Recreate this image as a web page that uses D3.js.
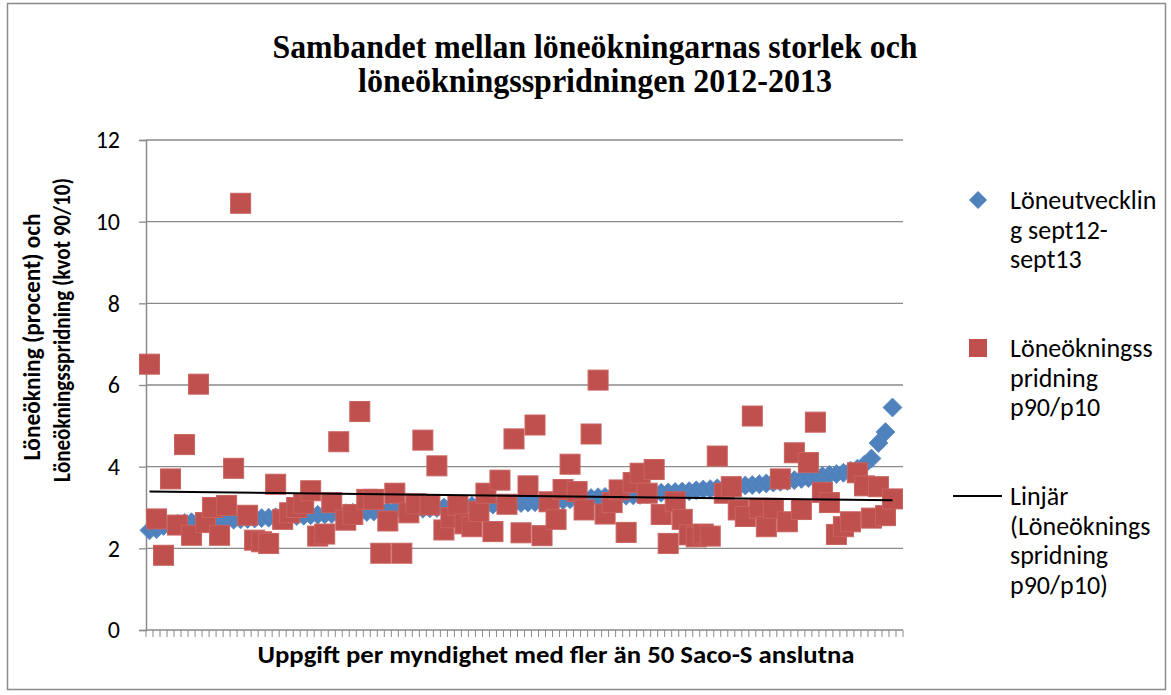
<!DOCTYPE html>
<html>
<head>
<meta charset="utf-8">
<script src="https://cdn.jsdelivr.net/npm/d3@7"></script>
<style>
  html, body { margin: 0; padding: 0; background: #fff; }
  svg { display: block; }
  text { fill: #000; }
</style>
</head>
<body>
<div id="chart"></div>
<script>
// Data (one value per agency)
const categories = d3.range(1, 109);   // 108 category slots on the x axis

const spreadValues = [
  6.51, 2.72, 1.83, 3.70, 2.57, 4.54, 2.32, 6.02, 2.63, 3.00,
  2.32, 3.05, 3.96, 10.45, 2.81, 2.20, 2.16, 2.12, 3.57, 2.71,
  2.87, 3.00, 3.10, 3.41, 2.30, 2.35, 3.12, 4.61, 2.69, 2.83,
  5.35, 3.20, 3.20, 1.88, 2.67, 3.35, 1.88, 2.87, 3.09, 4.65,
  3.06, 4.02, 2.45, 2.75, 3.05, 2.60, 2.53, 2.90, 3.35, 2.41,
  3.67, 3.08, 4.68, 2.38, 3.53, 5.02, 2.31, 3.14, 2.71, 3.44,
  4.06, 3.39, 2.94, 4.80, 6.12, 2.84, 3.12, 3.43, 2.39, 3.61,
  3.84, 3.35, 3.93, 2.83, 2.12, 3.14, 2.71, 2.33, 2.28, 2.35,
  2.30, 4.26, 3.35, 3.51, 2.94, 2.78, 5.24, 2.98, 2.53, 2.98,
  3.70, 2.65, 4.34, 2.95, 4.10, 5.09, 3.37, 3.12, 2.34, 2.53,
  2.65, 3.85, 3.53, 2.74, 3.51, 2.80, 3.21
];

const growthValues = [
  2.44, 2.47, 2.55, 2.58, 2.60, 2.62, 2.64, 2.65, 2.66, 2.67,
  2.68, 2.69, 2.70, 2.71, 2.72, 2.73, 2.74, 2.75, 2.76, 2.77,
  2.78, 2.79, 2.80, 2.81, 2.82, 2.83, 2.84, 2.85, 2.86, 2.87,
  2.88, 2.89, 2.90, 2.91, 2.92, 2.93, 2.94, 2.95, 2.96, 2.97,
  2.98, 2.99, 3.00, 3.01, 3.02, 3.03, 3.04, 3.05, 3.06, 3.07,
  3.08, 3.09, 3.10, 3.11, 3.12, 3.13, 3.14, 3.15, 3.16, 3.18,
  3.20, 3.21, 3.22, 3.23, 3.25, 3.26, 3.27, 3.28, 3.29, 3.30,
  3.31, 3.33, 3.34, 3.36, 3.37, 3.38, 3.39, 3.40, 3.42, 3.44,
  3.45, 3.47, 3.48, 3.50, 3.52, 3.54, 3.55, 3.57, 3.59, 3.61,
  3.63, 3.65, 3.67, 3.70, 3.72, 3.74, 3.77, 3.80, 3.82, 3.85,
  3.90, 3.95, 4.05, 4.20, 4.58, 4.85, 5.45
];

const yTicks = [0, 2, 4, 6, 8, 10, 12];

const titleLines = [
  'Sambandet mellan löneökningarnas storlek och',
  'löneökningsspridningen 2012-2013'
];
const yTitleLines = [
  'Löneökning (procent) och',
  'Löneökningsspridning (kvot 90/10)'
];
const xTitle = 'Uppgift per myndighet med fler än 50 Saco-S anslutna';
const legendItems = [
  { type: 'diamond', lines: ['Löneutvecklin', 'g sept12-', 'sept13'] },
  { type: 'square', lines: ['Löneökningss', 'pridning', 'p90/p10'] },
  { type: 'line', lines: ['Linjär', '(Löneöknings', 'spridning', 'p90/p10)'] }
];

const BLUE = '#4F81BD';
const RED = '#C0504D';
const GRID = '#8a8a8a';
const SANS = 'Carlito, Calibri, "Open Sans", sans-serif';

const width = 1171, height = 695;
const plot = { left: 146, right: 903, top: 140, bottom: 630 };

const svg = d3.select('#chart').append('svg')
  .attr('width', width)
  .attr('height', height);

// Outer chart border
svg.append('rect')
  .attr('x', 7.5).attr('y', 3.5)
  .attr('width', 1158).attr('height', 686)
  .attr('fill', 'none').attr('stroke', GRID).attr('stroke-width', 1.5);

// Scales
const x = d3.scaleBand()
  .domain(categories)
  .range([plot.left, plot.right])
  .padding(0);
const cx = i => x(categories[i]) + x.bandwidth() / 2;

const y = d3.scaleLinear()
  .domain([0, 12])
  .range([plot.bottom, plot.top]);

// Gridlines
svg.append('g')
  .selectAll('line')
  .data(yTicks.filter(t => t > 0))
  .enter().append('line')
  .attr('x1', plot.left).attr('x2', plot.right)
  .attr('y1', d => y(d)).attr('y2', d => y(d))
  .attr('stroke', GRID).attr('stroke-width', 1.3);

// Y axis
const yAxis = svg.append('g')
  .attr('transform', `translate(${plot.left},0)`)
  .call(d3.axisLeft(y).tickValues(yTicks).tickSize(7).tickPadding(19));
yAxis.select('.domain').attr('stroke', GRID).attr('stroke-width', 1.5);
yAxis.selectAll('.tick line').attr('stroke', GRID).attr('stroke-width', 1.3);
yAxis.selectAll('.tick text')
  .style('font-family', SANS).style('font-size', '24px').attr('fill', '#000');

// X axis: line plus a small tick at every category boundary
svg.append('line')
  .attr('x1', plot.left).attr('x2', plot.right)
  .attr('y1', plot.bottom).attr('y2', plot.bottom)
  .attr('stroke', GRID).attr('stroke-width', 1.5);

const boundaries = categories.map(c => x(c)).concat([plot.right]);
svg.append('g')
  .selectAll('line')
  .data(boundaries)
  .enter().append('line')
  .attr('x1', d => d).attr('x2', d => d)
  .attr('y1', plot.bottom).attr('y2', plot.bottom + 7)
  .attr('stroke', GRID).attr('stroke-width', 1);

// Series 1: diamonds
const dr = 9.5;
svg.append('g')
  .selectAll('path')
  .data(growthValues)
  .enter().append('path')
  .attr('d', (d, i) => {
    const px = cx(i), py = y(d);
    return `M${px},${py - dr}L${px + dr},${py}L${px},${py + dr}L${px - dr},${py}Z`;
  })
  .attr('fill', BLUE)
  .attr('stroke', '#5a8ac4').attr('stroke-width', 0.8);

// Series 2: squares
const sq = 20;
svg.append('g')
  .selectAll('rect')
  .data(spreadValues)
  .enter().append('rect')
  .attr('x', (d, i) => cx(i) - sq / 2)
  .attr('y', d => y(d) - sq / 2)
  .attr('width', sq).attr('height', sq)
  .attr('fill', RED)
  .attr('stroke', '#c86360').attr('stroke-width', 1);

// Linear trendline of series 2 (x = 1..n like the spreadsheet)
const n = spreadValues.length;
const xs = spreadValues.map((d, i) => i + 1);
const mx = d3.mean(xs), my = d3.mean(spreadValues);
const slope = d3.sum(xs, (v, i) => (v - mx) * (spreadValues[i] - my)) /
  d3.sum(xs, v => (v - mx) * (v - mx));
const intercept = my - slope * mx;
svg.append('line')
  .attr('x1', cx(0)).attr('y1', y(intercept + slope * 1))
  .attr('x2', cx(n - 1)).attr('y2', y(intercept + slope * n))
  .attr('stroke', '#000').attr('stroke-width', 2);

// Title (tall, condensed serif)
svg.append('g')
  .selectAll('text')
  .data(titleLines)
  .enter().append('text')
  .attr('x', 595)
  .attr('y', (d, i) => 58 + i * 34)
  .attr('text-anchor', 'middle')
  .attr('textLength', (d, i) => [645, 474][i])
  .attr('lengthAdjust', 'spacingAndGlyphs')
  .style('font-family', '"Liberation Serif", "Times New Roman", serif')
  .style('font-weight', 'bold')
  .style('font-size', '34px')
  .text(d => d);

// Y axis title (two rotated lines)
svg.append('g')
  .selectAll('text')
  .data(yTitleLines)
  .enter().append('text')
  .attr('transform', (d, i) => `translate(${[40, 70][i]},${[337, 330][i]}) rotate(-90)`)
  .attr('text-anchor', 'middle')
  .attr('textLength', (d, i) => [247, 304][i])
  .attr('lengthAdjust', 'spacingAndGlyphs')
  .style('font-family', SANS)
  .style('font-weight', 'bold')
  .style('font-size', '25px')
  .text(d => d);

// X axis title
svg.append('text')
  .attr('x', 556).attr('y', 663)
  .attr('text-anchor', 'middle')
  .attr('textLength', 597)
  .attr('lengthAdjust', 'spacingAndGlyphs')
  .style('font-family', SANS)
  .style('font-weight', 'bold')
  .style('font-size', '24px')
  .text(xTitle);

// Legend
const legendTop = [200, 348, 496];
const lineGap = 29.5;
const legend = svg.append('g');
legendItems.forEach((item, k) => {
  const ly = legendTop[k];
  if (item.type === 'diamond') {
    legend.append('path')
      .attr('d', `M978,${ly - 9}L987,${ly}L978,${ly + 9}L969,${ly}Z`)
      .attr('fill', BLUE);
  } else if (item.type === 'square') {
    legend.append('rect')
      .attr('x', 969).attr('y', ly - 9)
      .attr('width', 18).attr('height', 18)
      .attr('fill', RED);
  } else {
    legend.append('line')
      .attr('x1', 953).attr('x2', 1002)
      .attr('y1', ly).attr('y2', ly)
      .attr('stroke', '#000').attr('stroke-width', 2);
  }
  legend.append('g')
    .selectAll('text')
    .data(item.lines)
    .enter().append('text')
    .attr('x', 1010)
    .attr('y', (d, i) => ly + i * lineGap)
    .attr('dy', '0.35em')
    .style('font-family', SANS)
    .style('font-size', '26px')
    .text(d => d);
});
</script>
</body>
</html>
